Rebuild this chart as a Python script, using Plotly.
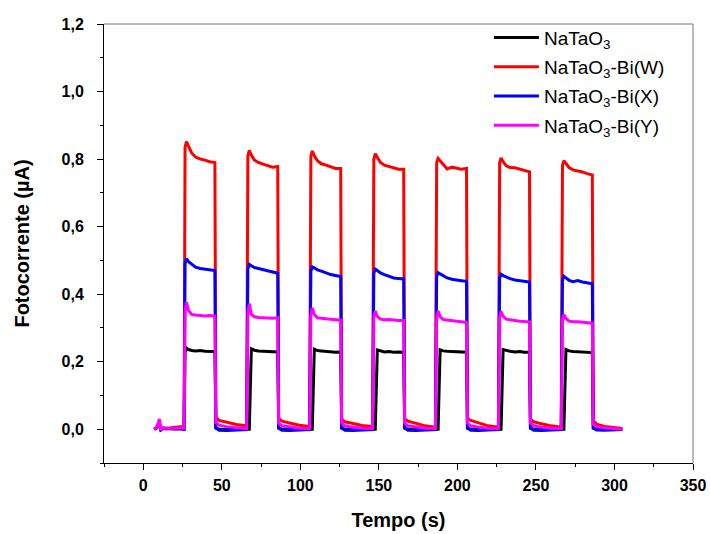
import plotly.graph_objects as go

# Time (s) — shared by all series
tempo = [
    7.0, 8.5, 10.3, 11.2, 12.5, 16.0, 20.0, 24.0, 26.0,
    26.6, 27.5, 28.8, 30.8, 33.3, 36.3, 39.3, 42.3, 45.6, 46.2, 48.3, 53.3, 59.3, 65.8,
    66.6, 67.5, 68.8, 70.8, 73.3, 76.3, 79.3, 82.3, 85.6, 86.2, 88.3, 93.3, 99.3, 105.9,
    106.7, 107.6, 108.9, 110.9, 113.4, 116.4, 119.4, 122.4, 125.7, 126.3, 128.4, 133.4, 139.4, 146.0,
    146.8, 147.7, 149.0, 151.0, 153.5, 156.5, 159.5, 162.5, 165.8, 166.4, 168.5, 173.5, 179.5, 186.0,
    186.8, 187.7, 189.0, 191.0, 193.5, 196.5, 199.5, 202.5, 205.8, 206.4, 208.5, 213.5, 219.5, 226.1,
    226.9, 227.8, 229.1, 231.1, 233.6, 236.6, 239.6, 242.6, 245.9, 246.5, 248.6, 253.6, 259.6, 266.1,
    266.9, 267.8, 269.1, 271.1, 273.6, 276.6, 279.6, 282.6, 285.9, 286.5, 288.6, 293.6, 299.6, 305.0,
]

natao3 = [
    0.0, 0.004, 0.015, -0.002, 0.002, 0.001, 0.001, 0.001, 0.0,
    0.228, 0.240, 0.236, 0.233, 0.232, 0.233, 0.231, 0.230, 0.230, 0.004, 0.0, -0.001, 0.0, 0.0,
    0.0, 0.0, 0.238, 0.234, 0.232, 0.231, 0.230, 0.229, 0.229, 0.003, 0.0, 0.0, 0.0, 0.0,
    0.0, 0.0, 0.237, 0.233, 0.232, 0.230, 0.230, 0.228, 0.229, 0.003, 0.0, 0.0, 0.0, 0.0,
    0.0, 0.0, 0.235, 0.232, 0.229, 0.230, 0.228, 0.229, 0.228, 0.003, 0.0, 0.0, 0.0, 0.0,
    0.0, 0.0, 0.235, 0.232, 0.231, 0.230, 0.230, 0.229, 0.228, 0.003, 0.0, 0.0, 0.0, 0.0,
    0.0, 0.0, 0.236, 0.233, 0.231, 0.229, 0.230, 0.228, 0.228, 0.003, 0.0, 0.0, 0.0, 0.0,
    0.0, 0.0, 0.236, 0.232, 0.230, 0.229, 0.228, 0.228, 0.227, 0.003, 0.0, 0.0, 0.0, 0.0,
]

bi_w = [
    0.0, 0.004, 0.02, -0.002, 0.004, 0.003, 0.006, 0.008, 0.008,
    0.835, 0.852, 0.838, 0.818, 0.806, 0.800, 0.797, 0.792, 0.790, 0.035, 0.026, 0.020, 0.014, 0.010,
    0.810, 0.826, 0.812, 0.797, 0.790, 0.785, 0.780, 0.776, 0.778, 0.032, 0.024, 0.018, 0.012, 0.008,
    0.808, 0.824, 0.810, 0.795, 0.786, 0.782, 0.778, 0.772, 0.772, 0.030, 0.022, 0.016, 0.011, 0.008,
    0.800, 0.816, 0.805, 0.790, 0.782, 0.778, 0.775, 0.770, 0.770, 0.030, 0.024, 0.017, 0.010, 0.006,
    0.790, 0.802, 0.795, 0.782, 0.771, 0.776, 0.772, 0.770, 0.772, 0.032, 0.026, 0.018, 0.010, 0.006,
    0.790, 0.803, 0.792, 0.780, 0.775, 0.774, 0.770, 0.768, 0.762, 0.030, 0.022, 0.016, 0.010, 0.006,
    0.782, 0.795, 0.786, 0.775, 0.768, 0.766, 0.762, 0.757, 0.753, 0.025, 0.015, 0.008, 0.004, 0.002,
]

bi_x = [
    0.0, 0.004, 0.02, -0.002, 0.002, 0.001, 0.002, 0.002, 0.0,
    0.490, 0.505, 0.496, 0.488, 0.480, 0.476, 0.474, 0.471, 0.470, 0.004, -0.003, -0.004, -0.003, -0.001,
    0.475, 0.488, 0.484, 0.479, 0.476, 0.473, 0.470, 0.466, 0.462, 0.004, -0.003, -0.004, -0.002, -0.001,
    0.468, 0.481, 0.478, 0.472, 0.468, 0.462, 0.458, 0.455, 0.452, 0.004, -0.003, -0.004, -0.002, -0.001,
    0.462, 0.474, 0.470, 0.463, 0.458, 0.452, 0.448, 0.446, 0.445, 0.004, -0.003, -0.004, -0.002, -0.001,
    0.452, 0.464, 0.460, 0.454, 0.448, 0.444, 0.441, 0.440, 0.438, 0.004, -0.003, -0.004, -0.002, -0.001,
    0.448, 0.459, 0.455, 0.450, 0.446, 0.442, 0.440, 0.437, 0.436, 0.004, -0.003, -0.004, -0.002, -0.001,
    0.442, 0.453, 0.448, 0.441, 0.437, 0.440, 0.436, 0.433, 0.431, 0.004, -0.002, -0.003, -0.002, -0.001,
]

bi_y = [
    0.0, 0.006, 0.03, -0.003, 0.003, 0.002, 0.003, 0.004, 0.003,
    0.350, 0.376, 0.352, 0.340, 0.338, 0.336, 0.335, 0.337, 0.335, 0.020, 0.012, 0.007, 0.004, 0.002,
    0.345, 0.372, 0.340, 0.333, 0.331, 0.330, 0.331, 0.329, 0.330, 0.018, 0.010, 0.006, 0.003, 0.002,
    0.340, 0.359, 0.340, 0.330, 0.328, 0.327, 0.326, 0.325, 0.323, 0.018, 0.010, 0.006, 0.003, 0.002,
    0.335, 0.350, 0.334, 0.326, 0.324, 0.325, 0.323, 0.322, 0.322, 0.018, 0.010, 0.006, 0.003, 0.002,
    0.335, 0.350, 0.333, 0.325, 0.323, 0.322, 0.320, 0.318, 0.316, 0.018, 0.010, 0.006, 0.003, 0.002,
    0.332, 0.349, 0.334, 0.326, 0.325, 0.322, 0.320, 0.320, 0.318, 0.018, 0.010, 0.006, 0.003, 0.002,
    0.325, 0.340, 0.328, 0.320, 0.318, 0.318, 0.316, 0.315, 0.314, 0.015, 0.008, 0.004, 0.002, 0.0,
]

series_names = ["NaTaO<sub>3</sub>", "NaTaO<sub>3</sub>-Bi(W)",
                "NaTaO<sub>3</sub>-Bi(X)", "NaTaO<sub>3</sub>-Bi(Y)"]
series_values = [natao3, bi_w, bi_x, bi_y]
series_colors = ["#000000", "#FF0000", "#0000FF", "#FF00FF"]

x_tickvals = [0, 50, 100, 150, 200, 250, 300, 350]
y_tickvals = [0.0, 0.2, 0.4, 0.6, 0.8, 1.0, 1.2]

FONT = "Arial, 'Liberation Sans', sans-serif"

fig = go.Figure()
for i, (name, vals, col) in enumerate(zip(series_names, series_values, series_colors)):
    fig.add_trace(go.Scatter(
        x=tempo, y=vals, name=name, mode="lines",
        line=dict(color=col, width=3),
        legendgroup="g%d" % i,
    ))

axis_common = dict(
    showline=True, linecolor="black", linewidth=1,
    ticks="outside", ticklen=6, tickwidth=1, tickcolor="black",
    showgrid=False, zeroline=False, automargin=False,
    tickfont=dict(family=FONT, size=16, color="black", weight="bold"),
)

fig.update_layout(
    width=710, height=534,
    margin=dict(l=104, r=17, t=24, b=71, autoexpand=False),
    paper_bgcolor="white", plot_bgcolor="white",
    separators=",.",
    font=dict(family=FONT, color="black"),
    xaxis=dict(
        range=[-25, 350], tickvals=x_tickvals,
        minor=dict(dtick=25, tick0=0, ticks="outside", ticklen=3, tickcolor="black"),
        ticklabelstandoff=2,
        title=dict(text="<b>Tempo (s)</b>", font=dict(family=FONT, size=20), standoff=19),
        **axis_common,
    ),
    yaxis=dict(
        range=[-0.1, 1.2], tickvals=y_tickvals, tickformat=".1f",
        minor=dict(dtick=0.1, tick0=0, ticks="outside", ticklen=3, tickcolor="black"),
        ticklabelstandoff=10,
        title=dict(text="<b>Fotocorrente (µA)</b>", font=dict(family=FONT, size=20), standoff=26),
        **axis_common,
    ),
    legend=dict(
        x=0.6535, y=1.012, xanchor="left", yanchor="top",
        bgcolor="rgba(0,0,0,0)", borderwidth=0,
        font=dict(family=FONT, size=19, color="black"),
        traceorder="grouped", tracegroupgap=1.5, itemwidth=45,
    ),
    showlegend=True,
    shapes=[
        dict(type="line", xref="paper", yref="paper", x0=0, x1=1, y0=1, y1=1,
             line=dict(color="#777777", width=1)),
        dict(type="line", xref="paper", yref="paper", x0=1, x1=1, y0=0, y1=1,
             line=dict(color="#777777", width=1)),
    ],
)

fig.write_html("out.html")
